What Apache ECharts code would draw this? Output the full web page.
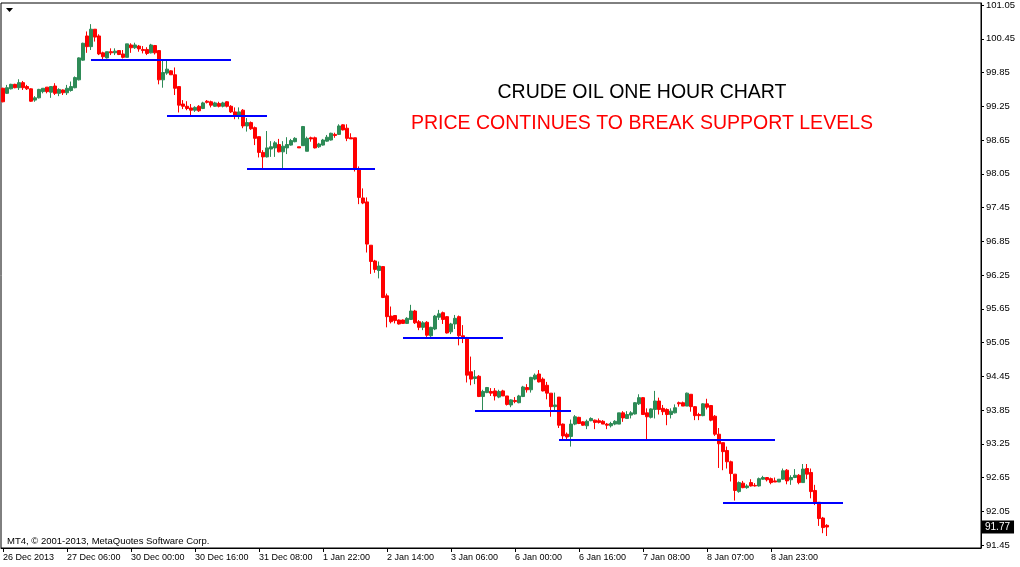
<!doctype html>
<html>
<head>
<meta charset="utf-8">
<title>Crude oil one hour chart</title>
<script src="https://cdn.jsdelivr.net/npm/echarts@6/dist/echarts.min.js"></script>
<style>
  html, body {margin: 0; padding: 0; background: #fff;}
  #chart {width: 1020px; height: 567px;}
</style>
</head>
<body>
<div id="chart"></div>
<script>
// hourly bars, 26 Dec 2013 .. 9 Jan 2014
const opens = [
  99.57, 99.48, 99.56, 99.64, 99.58, 99.67, 99.60, 99.56, 99.36, 99.40,
  99.51, 99.59, 99.50, 99.61, 99.48, 99.54, 99.49, 99.53, 99.58, 99.72,
  100.07, 100.50, 100.31, 100.62, 100.50, 100.20, 100.11, 100.22, 100.20, 100.24,
  100.18, 100.12, 100.34, 100.29, 100.32, 100.26, 100.26, 100.20, 100.33, 100.24,
  99.72, 99.84, 99.88, 99.81, 99.60, 99.29, 99.25, 99.22, 99.18, 99.25,
  99.21, 99.34, 99.33, 99.25, 99.30, 99.25, 99.33, 99.25, 99.15, 99.08,
  99.18, 98.90, 98.96, 98.87, 98.71, 98.43, 98.35, 98.49, 98.51, 98.57,
  98.44, 98.51, 98.56, 98.62, 98.53, 98.55, 98.45, 98.69, 98.69, 98.53,
  98.56, 98.63, 98.65, 98.75, 98.75, 98.92, 98.86, 98.69, 98.69, 98.13,
  97.62, 97.55, 96.78, 96.50, 96.33, 96.40, 95.88, 95.52, 95.53, 95.45,
  95.45, 95.39, 95.46, 95.61, 95.42, 95.32, 95.41, 95.17, 95.29, 95.50,
  95.58, 95.51, 95.24, 95.38, 95.51, 95.17, 95.14, 94.53, 94.41, 94.45,
  94.09, 94.16, 94.18, 94.19, 94.08, 94.19, 94.10, 93.94, 94.02, 93.98,
  94.09, 94.25, 94.21, 94.40, 94.49, 94.40, 94.29, 94.15, 93.91, 94.08,
  93.60, 93.42, 93.38, 93.60, 93.72, 93.64, 93.57, 93.66, 93.67, 93.66,
  93.65, 93.60, 93.57, 93.60, 93.60, 93.80, 93.70, 93.76, 93.78, 93.96,
  94.07, 93.80, 93.72, 93.86, 94.01, 93.88, 93.86, 93.77, 93.80, 93.98,
  93.98, 93.92, 94.13, 93.91, 93.77, 93.75, 93.96, 93.93, 93.74, 93.42,
  93.27, 93.13, 92.93, 92.71, 92.40, 92.55, 92.47, 92.56, 92.51, 92.50,
  92.62, 92.65, 92.63, 92.59, 92.57, 92.62, 92.78, 92.61, 92.65, 92.69,
  92.56, 92.81, 92.74, 92.42, 92.21, 91.93, 91.80
];
const closes = [
  99.33, 99.58, 99.64, 99.58, 99.67, 99.58, 99.56, 99.34, 99.40, 99.55,
  99.57, 99.51, 99.60, 99.48, 99.55, 99.49, 99.57, 99.60, 99.76, 100.11,
  100.37, 100.31, 100.62, 100.48, 100.18, 100.13, 100.22, 100.20, 100.23, 100.17,
  100.12, 100.36, 100.29, 100.34, 100.27, 100.24, 100.19, 100.34, 100.20, 99.72,
  99.85, 99.91, 99.81, 99.57, 99.27, 99.25, 99.21, 99.18, 99.23, 99.17,
  99.31, 99.32, 99.27, 99.31, 99.25, 99.31, 99.25, 99.15, 99.08, 99.15,
  98.90, 98.96, 98.85, 98.68, 98.43, 98.35, 98.51, 98.53, 98.60, 98.44,
  98.54, 98.57, 98.64, 98.68, 98.51, 98.89, 98.68, 98.67, 98.51, 98.58,
  98.65, 98.70, 98.77, 98.73, 98.90, 98.83, 98.68, 98.67, 98.13, 97.63,
  97.53, 96.80, 96.49, 96.35, 96.41, 95.85, 95.51, 95.42, 95.44, 95.38,
  95.39, 95.48, 95.61, 95.40, 95.32, 95.40, 95.18, 95.32, 95.52, 95.56,
  95.46, 95.22, 95.38, 95.48, 95.17, 95.13, 94.47, 94.40, 94.44, 94.09,
  94.18, 94.25, 94.15, 94.10, 94.18, 94.10, 93.95, 94.03, 94.00, 94.10,
  94.26, 94.21, 94.43, 94.47, 94.35, 94.19, 94.15, 93.91, 93.94, 93.58,
  93.39, 93.37, 93.60, 93.73, 93.61, 93.58, 93.65, 93.70, 93.63, 93.63,
  93.60, 93.58, 93.61, 93.65, 93.80, 93.71, 93.77, 93.80, 93.98, 94.07,
  93.77, 93.73, 93.87, 94.01, 93.86, 93.82, 93.77, 93.83, 93.89, 93.96,
  93.92, 94.15, 93.91, 93.75, 93.75, 93.96, 93.90, 93.67, 93.42, 93.25,
  93.11, 92.93, 92.72, 92.42, 92.56, 92.47, 92.50, 92.50, 92.50, 92.63,
  92.65, 92.61, 92.56, 92.57, 92.62, 92.77, 92.59, 92.65, 92.69, 92.56,
  92.80, 92.71, 92.40, 92.19, 91.92, 91.76, 91.77
];
const lows = [
  99.32, 99.47, 99.55, 99.57, 99.54, 99.54, 99.54, 99.33, 99.33, 99.39,
  99.48, 99.48, 99.40, 99.45, 99.43, 99.45, 99.45, 99.51, 99.57, 99.71,
  100.06, 100.20, 100.25, 100.40, 100.16, 100.08, 100.10, 100.16, 100.16, 100.16,
  100.10, 100.12, 100.20, 100.27, 100.22, 100.19, 100.16, 100.19, 100.17, 99.64,
  99.58, 99.81, 99.81, 99.45, 99.14, 99.20, 99.18, 99.09, 99.15, 99.15,
  99.20, 99.30, 99.23, 99.24, 99.23, 99.23, 99.23, 99.13, 99.02, 99.02,
  98.86, 98.80, 98.83, 98.56, 98.34, 98.12, 98.34, 98.35, 98.35, 98.43,
  98.13, 98.40, 98.55, 98.61, 98.51, 98.55, 98.45, 98.62, 98.50, 98.51,
  98.55, 98.62, 98.64, 98.69, 98.74, 98.82, 98.63, 98.67, 98.09, 97.51,
  97.51, 96.65, 96.27, 96.29, 96.19, 95.84, 95.32, 95.39, 95.39, 95.37,
  95.38, 95.38, 95.45, 95.38, 95.27, 95.27, 95.15, 95.15, 95.27, 95.45,
  95.38, 95.21, 95.20, 95.29, 95.00, 95.04, 94.34, 94.29, 94.31, 94.08,
  93.84, 94.15, 94.10, 94.02, 94.06, 94.10, 93.93, 93.90, 93.97, 93.97,
  94.08, 94.16, 94.16, 94.38, 94.34, 94.18, 94.04, 93.73, 93.84, 93.53,
  93.30, 93.33, 93.20, 93.58, 93.60, 93.57, 93.51, 93.65, 93.51, 93.61,
  93.60, 93.51, 93.54, 93.58, 93.60, 93.64, 93.69, 93.70, 93.77, 93.94,
  93.77, 93.32, 93.70, 93.70, 93.77, 93.76, 93.58, 93.70, 93.79, 93.91,
  93.92, 93.92, 93.82, 93.67, 93.67, 93.74, 93.86, 93.65, 93.39, 92.82,
  92.78, 92.81, 92.58, 92.24, 92.38, 92.46, 92.45, 92.49, 92.49, 92.49,
  92.61, 92.58, 92.53, 92.57, 92.57, 92.61, 92.53, 92.52, 92.64, 92.53,
  92.56, 92.62, 92.28, 92.16, 91.79, 91.66, 91.61
];
const highs = [
  99.58, 99.63, 99.65, 99.65, 99.73, 99.70, 99.63, 99.57, 99.43, 99.56,
  99.57, 99.59, 99.60, 99.66, 99.57, 99.55, 99.63, 99.69, 99.78, 100.12,
  100.38, 100.58, 100.71, 100.62, 100.53, 100.22, 100.22, 100.28, 100.28, 100.25,
  100.25, 100.36, 100.37, 100.38, 100.34, 100.32, 100.30, 100.36, 100.34, 100.25,
  100.07, 100.07, 99.89, 99.94, 99.60, 99.36, 99.34, 99.29, 99.25, 99.27,
  99.33, 99.36, 99.35, 99.33, 99.33, 99.33, 99.34, 99.27, 99.23, 99.23,
  99.20, 99.04, 98.98, 98.89, 98.71, 98.47, 98.81, 98.63, 98.63, 98.67,
  98.63, 98.70, 98.67, 98.70, 98.53, 98.90, 98.71, 98.71, 98.71, 98.60,
  98.67, 98.74, 98.78, 98.78, 98.93, 98.93, 98.93, 98.77, 98.69, 98.18,
  97.79, 97.63, 96.78, 96.52, 96.49, 96.41, 95.92, 95.69, 95.53, 95.46,
  95.46, 95.50, 95.72, 95.63, 95.45, 95.43, 95.43, 95.33, 95.54, 95.63,
  95.60, 95.52, 95.40, 95.54, 95.53, 95.36, 95.15, 94.80, 94.56, 94.47,
  94.21, 94.26, 94.24, 94.24, 94.21, 94.21, 94.10, 94.04, 94.08, 94.12,
  94.28, 94.31, 94.44, 94.50, 94.56, 94.43, 94.35, 94.15, 94.16, 94.08,
  93.61, 93.45, 93.68, 93.76, 93.73, 93.65, 93.68, 93.72, 93.68, 93.70,
  93.67, 93.62, 93.64, 93.67, 93.80, 93.83, 93.83, 93.83, 93.99, 94.13,
  94.08, 93.88, 93.88, 94.19, 94.07, 93.94, 93.88, 93.88, 93.95, 94.00,
  94.00, 94.16, 94.13, 93.92, 93.80, 93.97, 94.05, 93.94, 93.76, 93.53,
  93.27, 93.20, 92.95, 92.71, 92.58, 92.59, 92.53, 92.62, 92.55, 92.65,
  92.68, 92.65, 92.65, 92.65, 92.62, 92.81, 92.80, 92.69, 92.80, 92.71,
  92.89, 92.89, 92.81, 92.52, 92.21, 91.95, 91.82
];

// axis labels: one every 16 bars
const timeLabels = ['26 Dec 2013', '27 Dec 06:00', '30 Dec 00:00', '30 Dec 16:00', '31 Dec 08:00',
  '1 Jan 22:00', '2 Jan 14:00', '3 Jan 06:00', '6 Jan 00:00', '6 Jan 16:00',
  '7 Jan 08:00', '8 Jan 07:00', '8 Jan 23:00'];
const labelStep = 16;
const slotCount = 245;
const yTicks = [91.45, 92.05, 92.65, 93.25, 93.85, 94.45, 95.05, 95.65, 96.25,
  96.85, 97.45, 98.05, 98.65, 99.25, 99.85, 100.45, 101.05];

// support levels drawn on the chart: [from bar, to bar, price]
const supports = [
  [22, 57, 100.07],
  [41, 66, 99.08],
  [61, 93, 98.14],
  [100, 125, 95.14],
  [118, 142, 93.84],
  [139, 193, 93.32],
  [180, 210, 92.20]
];
const lastPrice = 91.77;

let categories = [];
for (let i = 0; i < slotCount; i++) {
  let k = i / labelStep;
  categories.push(i % labelStep === 0 && k < timeLabels.length ? timeLabels[k] : '');
}
let candles = opens.map(function (o, i) {
  return [o, closes[i], lows[i], highs[i]];
});

let markData = supports.map(function (s) {
  return [
    {coord: [s[0], s[2]], lineStyle: {color: '#0000ff', width: 2, type: 'solid'}, label: {show: false}},
    {coord: [s[1], s[2]]}
  ];
});
markData.push({
  yAxis: lastPrice,
  lineStyle: {color: 'rgba(0,0,0,0)', width: 1},
  label: {
    show: true, position: 'end', distance: 1,
    formatter: function (p) { return p.value.toFixed(2); },
    backgroundColor: '#000', color: '#fff', fontSize: 10,
    padding: [2, 4, 1, 3], fontFamily: 'Liberation Sans'
  }
});

let chart = echarts.init(document.getElementById('chart'));
chart.setOption({
  animation: false,
  backgroundColor: '#fff',
  textStyle: {fontFamily: 'Liberation Sans'},
  grid: {
    left: 1, top: 3, width: 980, height: 545,
    show: true, borderColor: '#000', borderWidth: 1, backgroundColor: '#fff'
  },
  xAxis: {
    type: 'category',
    data: categories,
    boundaryGap: true,
    axisLine: {show: true, lineStyle: {color: '#000'}},
    axisTick: {
      show: true, alignWithLabel: true, length: 4,
      lineStyle: {color: '#000'},
      interval: function (idx, val) { return val !== ''; }
    },
    axisLabel: {
      color: '#000', fontSize: 9, align: 'left', margin: 5,
      interval: function (idx, val) { return val !== ''; }
    },
    splitLine: {show: false}
  },
  yAxis: {
    type: 'value',
    position: 'right',
    min: 91.397,
    max: 101.086,
    scale: true,
    axisLine: {show: true, lineStyle: {color: '#000'}},
    axisTick: {show: true, length: 3, lineStyle: {color: '#000'}, customValues: yTicks},
    axisLabel: {
      color: '#000', fontSize: 9.5, margin: 5, customValues: yTicks,
      formatter: function (v) { return v.toFixed(2); }
    },
    splitLine: {show: false}
  },
  series: [{
    type: 'candlestick',
    data: candles,
    barWidth: 3,
    itemStyle: {
      color: '#2e8b57', color0: '#ff0000',
      borderColor: '#2e8b57', borderColor0: '#ff0000', borderWidth: 1
    },
    markLine: {
      silent: true,
      symbol: 'none',
      animation: false,
      data: markData
    }
  }],
  graphic: [
    {type: 'polygon', shape: {points: [[6, 8], [13, 8], [9.5, 12]]}, style: {fill: '#000'}},
    {type: 'text', x: 642, y: 93, style: {
      text: 'CRUDE OIL ONE HOUR CHART', fill: '#000',
      font: '19.5px "Liberation Sans"', textAlign: 'center', textVerticalAlign: 'middle'}},
    {type: 'text', x: 642, y: 124, style: {
      text: 'PRICE CONTINUES TO BREAK SUPPORT LEVELS', fill: '#ff0000',
      font: '19.5px "Liberation Sans"', textAlign: 'center', textVerticalAlign: 'middle'}},
    {type: 'text', x: 7, y: 541, style: {
      text: 'MT4, \u00a9 2001-2013, MetaQuotes Software Corp.', fill: '#000',
      font: '9.5px "Liberation Sans"', textAlign: 'left', textVerticalAlign: 'middle'}}
  ]
});

window.onresize = function () {
  chart.resize();
};
</script>
</body>
</html>
